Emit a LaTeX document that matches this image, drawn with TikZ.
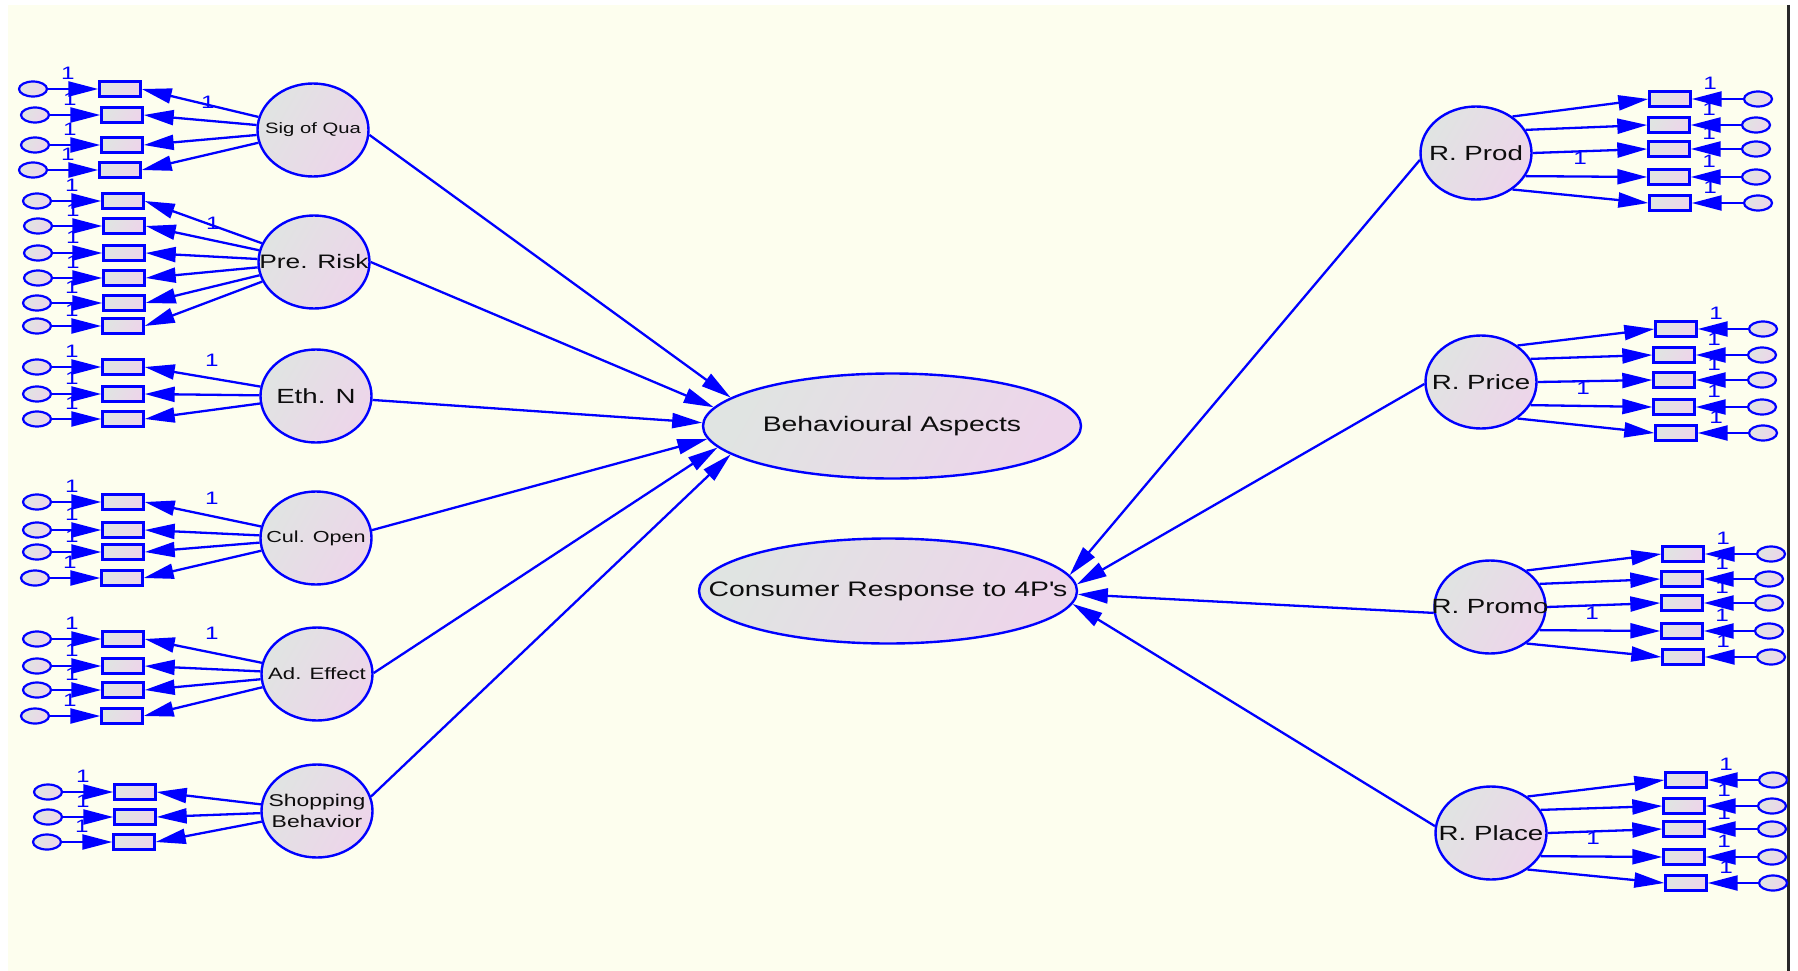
\documentclass[tikz,border=0pt]{standalone}
\usepackage{fontspec}
\setmainfont{Liberation Sans}[FakeStretch=1.35]
\usetikzlibrary{shapes.geometric, arrows.meta}
\definecolor{amosblue} {RGB}{0,0,255}
\definecolor{paperclr} {RGB}{253,254,238}
\definecolor{shadegray}{RGB}{224,228,226}
\definecolor{shadepink}{RGB}{237,213,234}
\definecolor{frameclr} {RGB}{40,40,40}

\begin{document}
\begin{tikzpicture}[
    x=1pt, y=-1pt,
    >={Triangle[length=30pt, width=15pt]},
    shadefill/.style={left color=shadegray, right color=shadepink, shading angle=60},
    lat/.style     ={draw=amosblue, line width=2.4pt, ellipse, shadefill,
                     minimum width=111pt, minimum height=93pt, inner sep=0pt},
    lattxt/.style  ={align=center, text=black!95, inner sep=0pt,
                     font=\fontsize{20.5}{22}\selectfont},
    big/.style     ={lat, minimum width=378pt, minimum height=105pt},
    bigtxt/.style  ={lattxt, font=\fontsize{21}{24}\selectfont},
    obs/.style     ={draw=amosblue, line width=2.4pt, rectangle, shadefill,
                     minimum width=41pt, minimum height=15pt, inner sep=0pt},
    err/.style     ={draw=amosblue, line width=2.2pt, ellipse, shadefill,
                     minimum width=28pt, minimum height=15pt, inner sep=0pt},
    onelbl/.style  ={text=amosblue, font=\fontsize{18}{18}\selectfont, inner sep=0pt},
    loading/.style ={->, draw=amosblue, line width=2.3pt},
    errpath/.style ={->, draw=amosblue, line width=2.3pt},
    regress/.style ={->, draw=amosblue, line width=2.3pt},
]

% =============== Canvas ===============
\useasboundingbox (0,0) rectangle (1798,971);
\fill[white] (0,0) rectangle (1798,971);
\fill[paperclr] (8,5) rectangle (1787,971);
\draw[frameclr, line width=2.7pt] (1788.5,5) -- (1788.5,971);

% =============== Endogenous constructs (centre) ===============
\node[big, label={[bigtxt]center:Behavioural Aspects}] (behAsp) at (892,426) {};
\node[big, label={[bigtxt]center:Consumer Response to 4P\textquotesingle s}] (consResp) at (888,591) {};

% =============== Exogenous constructs (left) ===============
\node[lat, label={[lattxt, font=\fontsize{15}{17}\selectfont]center:Sig of Qua}]   (sigQ)  at (313,130) {};
\node[lat, label={[lattxt, font=\fontsize{19.5}{21}\selectfont]center:Pre. Risk}]  (preR)  at (314,262) {};
\node[lat, label={[lattxt]center:Eth. N}]                                          (ethN)  at (316,396) {};
\node[lat, label={[lattxt, font=\fontsize{16}{18}\selectfont]center:Cul. Open}]    (culO)  at (316,538) {};
\node[lat, label={[lattxt, font=\fontsize{16.4}{18}\selectfont]center:Ad. Effect}] (adE)   at (317,674) {};
\node[lat, label={[lattxt, font=\fontsize{17}{21}\selectfont]center:Shopping\\Behavior}] (shopB) at (317,811) {};

% =============== Response constructs (right) ===============
\node[lat, label={[lattxt]center:R. Prod}]  (rProd)  at (1476,153) {};
\node[lat, label={[lattxt]center:R. Price}] (rPrice) at (1481,382) {};
\node[lat, label={[lattxt]center:R. Promo}] (rPromo) at (1490,607) {};
\node[lat, label={[lattxt]center:R. Place}] (rPlace) at (1491,833) {};

% =============== Indicators + error terms ===============
% latent/item/error x/item x/y
\def\leftrows{%
  sigQ/1/33/120/89, sigQ/2/35/122/115, sigQ/3/35/122/145, sigQ/4/33/120/170,
  preR/1/37/123/201, preR/2/38/124/226, preR/3/38/124/253,
  preR/4/38/124/278, preR/5/37/124/303, preR/6/37/123/326,
  ethN/1/37/123/367, ethN/2/37/123/394, ethN/3/37/123/419,
  culO/1/37/123/502, culO/2/37/123/530, culO/3/37/123/552, culO/4/35/122/578,
  adE/1/37/123/639, adE/2/37/123/666, adE/3/37/123/690, adE/4/35/122/716,
  shopB/1/48/135/792, shopB/2/48/135/817, shopB/3/47/134/842}
% latent/item/item x/error x/y/start angle
\def\rightrows{%
  rProd/1/1670/1758/99/45, rProd/2/1669/1756/125/25, rProd/3/1669/1756/149/0,
  rProd/4/1669/1756/177/335, rProd/5/1670/1758/203/315,
  rPrice/1/1676/1763/329/45, rPrice/2/1674/1762/355/25, rPrice/3/1674/1762/380/0,
  rPrice/4/1674/1762/407/335, rPrice/5/1676/1763/433/315,
  rPromo/1/1683/1771/554/45, rPromo/2/1682/1769/579/25, rPromo/3/1682/1769/603/0,
  rPromo/4/1682/1769/631/335, rPromo/5/1683/1771/657/315,
  rPlace/1/1686/1773/780/45, rPlace/2/1684/1772/806/25, rPlace/3/1684/1772/829/0,
  rPlace/4/1684/1772/857/335, rPlace/5/1686/1773/883/315}

\foreach \lv/\k/\ex/\ox/\y in \leftrows{%
  \node[obs] (\lv-o\k) at (\ox,\y) {};
  \node[err] (\lv-e\k) at (\ex,\y) {};
  \node[onelbl] (\lv-t\k) at (\ex+35,\y-16) {1};
}
\foreach \lv/\k/\ox/\ex/\y/\ang in \rightrows{%
  \node[obs] (\lv-o\k) at (\ox,\y) {};
  \node[err] (\lv-e\k) at (\ex,\y) {};
  \node[onelbl] (\lv-t\k) at (\ox+40,\y-16) {1};
}

% fixed loadings
\foreach \nm/\x/\y in {sigQ-l/208/102, preR-l/213/223, ethN-l/212/360,
                      culO-l/212/498, adE-l/212/633, rProd-l/1580/158,
                      rPrice-l/1583/388, rPromo-l/1592/613, rPlace-l/1593/838}
  \node[onelbl] (\nm) at (\x,\y) {1};

% =============== Wires ===============
\foreach \lv/\k/\ex/\ox/\y in \leftrows{%
  \draw[errpath] (\lv-e\k) -- (\lv-o\k);
  \draw[loading] (\lv) -- (\lv-o\k.east);
}
\foreach \lv/\k/\ox/\ex/\y/\ang in \rightrows{%
  \draw[errpath] (\lv-e\k) -- (\lv-o\k);
  \draw[loading] (\lv.\ang) -- (\lv-o\k.west);
}

\foreach \src/\a/\b in {sigQ/355/170, preR/0/174, ethN/356/179,
                        culO/8/184, adE/1/187, shopB/15/190}
  \draw[regress] (\src.\a) -- (behAsp.\b);

\foreach \src/\a/\b in {rProd/187/5, rPrice/182/2, rPromo/186/359, rPlace/173/356}
  \draw[regress] (\src.\a) -- (consResp.\b);

\end{tikzpicture}
\end{document}
